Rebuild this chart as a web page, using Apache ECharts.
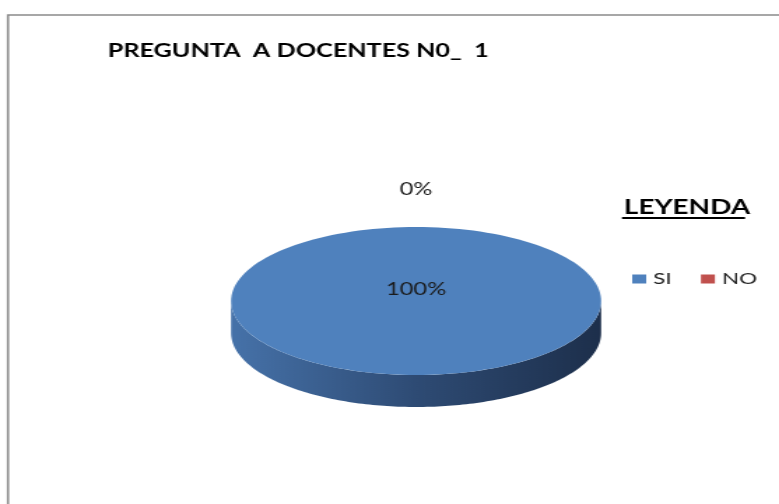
<!DOCTYPE html>
<html>
<head>
<meta charset="utf-8">
<title>Pregunta a docentes</title>
<script src="https://cdn.jsdelivr.net/npm/echarts@6/dist/echarts.min.js"></script>
<style>
  html, body { margin: 0; padding: 0; background: #fff; overflow: hidden; }
  /* la imagen original esta estirada en horizontal: se reproduce igual */
  #chart { width: 557px; height: 504px; transform: scaleX(1.3986); transform-origin: 0 0; }
</style>
</head>
<body>
<div id="chart"></div>
<script>
// datos (porcentaje de respuestas)
var categories = ['SI', 'NO'];
var values = [100, 0];
var colors = ['#4F81BD', '#C0504D'];
// degradado de la pared lateral (izquierda -> derecha)
var sideColors = [
  ['#4672a9', '#2e4b74', '#1d2f4b'],
  ['#b04a47', '#7a2e2c', '#4f1c1b']
];

var total = values.reduce(function (a, b) { return a + b; }, 0);

// geometria del pastel "3D" (en pixeles, antes del estiramiento)
var pie = { cx: 297.5, cy: 301, rx: 132.3, ry: 74, depth: 32 };

function pt(theta, dy) {
  return [pie.cx + pie.rx * Math.sin(theta),
          pie.cy - pie.ry * Math.cos(theta) + (dy || 0)];
}

function renderSlice(params, api) {
  var val = api.value(0);
  var start = api.value(1);
  var idx = params.seriesIndex;
  var a0 = start / total * 2 * Math.PI;
  var a1 = (start + val) / total * 2 * Math.PI;
  var steps = 160;
  var children = [];
  var i;

  if (a1 > a0) {
    // pared frontal visible (entre 90 y 270 grados)
    var s0 = Math.max(a0, Math.PI / 2);
    var s1 = Math.min(a1, 3 * Math.PI / 2);
    if (s1 > s0) {
      var side = [];
      for (i = 0; i <= steps; i++) side.push(pt(s0 + (s1 - s0) * i / steps));
      for (i = steps; i >= 0; i--) side.push(pt(s0 + (s1 - s0) * i / steps, pie.depth));
      var sc = sideColors[idx];
      children.push({
        type: 'polygon',
        shape: { points: side },
        style: {
          fill: {
            type: 'linear', global: true,
            x: pie.cx - pie.rx, y: 0, x2: pie.cx + pie.rx, y2: 0,
            colorStops: [
              { offset: 0, color: sc[0] },
              { offset: 0.5, color: sc[1] },
              { offset: 1, color: sc[2] }
            ]
          }
        }
      });
    }
    // cara superior
    var top = [];
    if (a1 - a0 < 2 * Math.PI - 1e-6) top.push([pie.cx, pie.cy]);
    for (i = 0; i <= steps; i++) top.push(pt(a0 + (a1 - a0) * i / steps));
    children.push({
      type: 'polygon',
      shape: { points: top },
      style: { fill: api.visual('color') }
    });
  }

  // etiqueta de porcentaje
  var pct = Math.round(val / total * 100) + '%';
  var lx, ly;
  if (val >= total) {
    lx = pie.cx; ly = pie.cy - 11;
  } else {
    var m = (a0 + a1) / 2;
    lx = pie.cx + (pie.rx + 22) * Math.sin(m);
    ly = pie.cy - (pie.ry + 37) * Math.cos(m);
  }
  children.push({
    type: 'text',
    x: lx, y: ly,
    z2: 10,
    style: {
      text: pct, align: 'center', verticalAlign: 'middle',
      fontFamily: 'Lato', fontSize: 17, fill: '#1a1a1a'
    }
  });
  return { type: 'group', children: children };
}

var series = [];
var acc = 0;
for (var k = 0; k < categories.length; k++) {
  series.push({
    type: 'custom',
    name: categories[k],
    coordinateSystem: 'none',
    renderItem: renderSlice,
    data: [[values[k], acc]],
    silent: true
  });
  acc += values[k];
}

var chart = echarts.init(document.getElementById('chart'));
chart.setOption({
  animation: false,
  color: colors,
  title: [{
    text: 'PREGUNTA  A DOCENTES N0_  1',
    left: 72, top: 37,
    textStyle: { fontFamily: 'Lato', fontWeight: 'bold', fontSize: 18, color: '#000' }
  }, {
    text: 'LEYENDA',
    left: 441, top: 193,
    textStyle: { fontFamily: 'Lato', fontWeight: 'bold', fontSize: 20, color: '#000' }
  }],
  legend: {
    data: categories,
    left: 447, top: 266,
    icon: 'rect',
    itemWidth: 10, itemHeight: 9,
    itemGap: 21,
    textStyle: { fontFamily: 'Lato', fontSize: 16, color: '#222' }
  },
  graphic: [{
    type: 'rect',
    shape: { x: 5.7, y: 15, width: 600, height: 520 },
    style: { fill: null, stroke: '#8a8a8a', lineWidth: 1.6 }
  }, {
    type: 'line',
    shape: { x1: 444.7, y1: 218, x2: 532.7, y2: 218 },
    style: { stroke: '#000', lineWidth: 2 }
  }],
  series: series
});
</script>
</body>
</html>
